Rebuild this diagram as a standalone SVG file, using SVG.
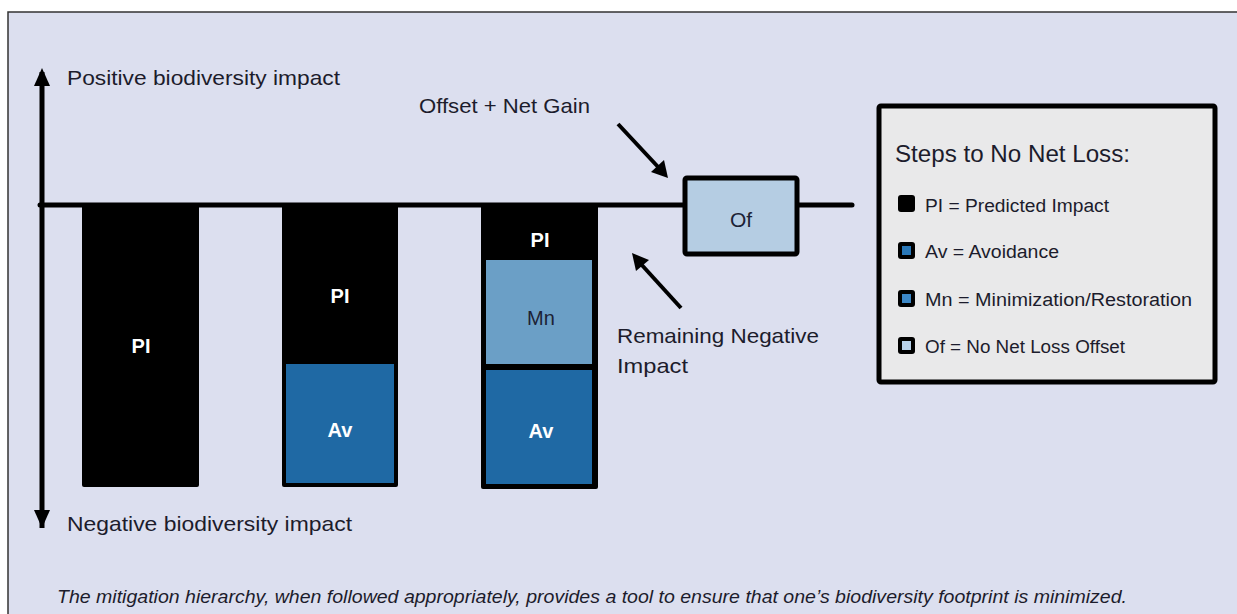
<svg xmlns="http://www.w3.org/2000/svg" width="1237" height="614" viewBox="0 0 1237 614">
<defs>
<style>
.t{font-family:"Liberation Sans",Arial,sans-serif;fill:#1c1c2c;}
.lbl{font-size:21px;}
.bw{font-family:"Liberation Sans",Arial,sans-serif;font-size:20px;font-weight:bold;fill:#ffffff;text-anchor:middle;}
.leg{font-size:18px;}
.ax{stroke:#000;stroke-width:5;fill:none;}
</style>
<marker id="ah" viewBox="0 0 10 10" refX="5" refY="5" markerWidth="4" markerHeight="4" orient="auto-start-reverse">
<path d="M0,0 L10,5 L0,10 z" fill="#000"/>
</marker>
</defs>
<rect x="0" y="0" width="1237" height="614" fill="#ffffff"/>
<rect x="8" y="12" width="1240" height="610" fill="#dcdfef" stroke="#333" stroke-width="1.5"/>

<g id="axes">
<line x1="42" y1="72" x2="42" y2="528" stroke="#000" stroke-width="5"/>
<path d="M34,86 L42,68 L50,86 z" fill="#000"/>
<path d="M34,510 L42,528 L50,510 z" fill="#000"/>
<line x1="40" y1="205" x2="852" y2="205" stroke="#000" stroke-width="5" stroke-linecap="round"/>
<text class="t lbl" x="67" y="85" textLength="273" lengthAdjust="spacingAndGlyphs">Positive biodiversity impact</text>
<text class="t lbl" x="67" y="531" textLength="285" lengthAdjust="spacingAndGlyphs">Negative biodiversity impact</text>
</g>

<g id="bar1">
<rect x="82" y="205" width="117" height="282" rx="2" fill="#000"/>
<text class="bw" x="141" y="353">PI</text>
</g>

<g id="bar2">
<rect x="282" y="205" width="116" height="282" rx="2" fill="#000"/>
<rect x="286" y="364" width="108" height="119" fill="#1f69a4"/>
<text class="bw" x="340" y="303">PI</text>
<text class="bw" x="340" y="437">Av</text>
</g>

<g id="bar3">
<rect x="481" y="205" width="117" height="284" rx="2" fill="#000"/>
<rect x="486" y="260" width="106" height="104" fill="#6b9fc6"/>
<rect x="486" y="370" width="106" height="114" fill="#1f69a4"/>
<text class="bw" x="540" y="247">PI</text>
<text x="541" y="325" style="font-family:'Liberation Sans',Arial,sans-serif;font-size:20px;fill:#1c2235;text-anchor:middle">Mn</text>
<text class="bw" x="541" y="438">Av</text>
</g>

<g id="offset">
<rect x="685" y="178" width="112" height="76" fill="#b5cde3" stroke="#000" stroke-width="5" rx="2"/>
<text x="741" y="227" style="font-family:'Liberation Sans',Arial,sans-serif;font-size:21px;fill:#1c2235;text-anchor:middle">Of</text>
</g>

<g id="connectors">
<line x1="618" y1="124" x2="660" y2="169" stroke="#000" stroke-width="4"/>
<path d="M651,172 L668,178 L664,160 z" fill="#000"/>
<line x1="681" y1="308" x2="640" y2="263" stroke="#000" stroke-width="4"/>
<path d="M649,260 L632,253 L636,271 z" fill="#000"/>
</g>

<g id="labels">
<text class="t lbl" x="419" y="113" textLength="171" lengthAdjust="spacingAndGlyphs">Offset + Net Gain</text>
<text class="t lbl" x="617" y="343" textLength="202" lengthAdjust="spacingAndGlyphs">Remaining Negative</text>
<text class="t lbl" x="617" y="373" textLength="71" lengthAdjust="spacingAndGlyphs">Impact</text>
</g>

<g id="legend">
<rect x="879" y="106" width="336" height="276" fill="#e9e9ea" stroke="#000" stroke-width="5" rx="2"/>
<text class="t" x="895" y="162" style="font-size:24px" textLength="235" lengthAdjust="spacingAndGlyphs">Steps to No Net Loss:</text>
<rect x="898" y="195" width="17" height="17" rx="3" fill="#000"/>
<text class="t leg" x="925" y="212" textLength="184" lengthAdjust="spacingAndGlyphs">PI = Predicted Impact</text>
<rect x="898" y="242" width="17" height="17" rx="3" fill="#000"/>
<rect x="902" y="246" width="9" height="9" fill="#2a78b8"/>
<text class="t leg" x="925" y="258" textLength="134" lengthAdjust="spacingAndGlyphs">Av = Avoidance</text>
<rect x="898" y="290" width="17" height="17" rx="3" fill="#000"/>
<rect x="902" y="294" width="9" height="9" fill="#3c87c6"/>
<text class="t leg" x="925" y="306" textLength="267" lengthAdjust="spacingAndGlyphs">Mn = Minimization/Restoration</text>
<rect x="898" y="337" width="17" height="17" rx="3" fill="#000"/>
<rect x="902" y="341" width="9" height="9" fill="#b7d1ea"/>
<text class="t leg" x="925" y="353" textLength="200" lengthAdjust="spacingAndGlyphs">Of = No Net Loss Offset</text>
</g>

<g id="caption">
<text class="t" x="57" y="603" style="font-size:18px;font-style:italic" textLength="1070" lengthAdjust="spacingAndGlyphs">The mitigation hierarchy, when followed appropriately, provides a tool to ensure that one’s biodiversity footprint is minimized.</text>
</g>
</svg>
